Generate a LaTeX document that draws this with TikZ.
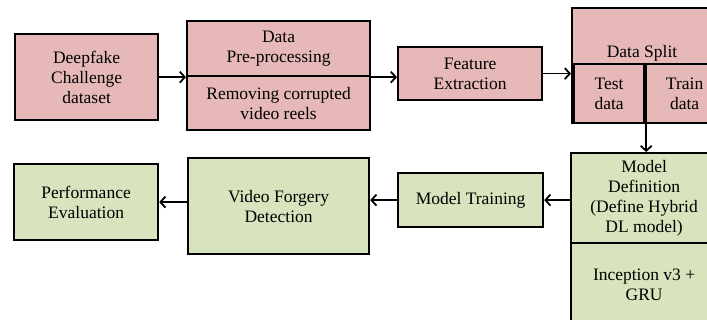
\documentclass[tikz,border=0pt]{standalone}
\usepackage{fontspec}
\setmainfont{Liberation Serif}
\usetikzlibrary{arrows.meta}
\definecolor{pinkfill}{HTML}{E6B9B8}
\definecolor{greenfill}{HTML}{D7E4BD}
\begin{document}
\begin{tikzpicture}[x=1pt,y=-1pt,
  box/.style={draw=black, line width=2.2pt, rectangle, anchor=north west, inner sep=0pt, align=center,
    font=\fontsize{17.5}{20}\selectfont},
  pbox/.style={box, fill=pinkfill},
  gbox/.style={box, fill=greenfill},
  lbl/.style={inner sep=0pt, align=center, font=\fontsize{17.5}{20}\selectfont},
  arr/.style={draw=black, line width=1.8pt, -{Straight Barb[length=5pt,width=11pt,line width=1.8pt]}}]
\useasboundingbox (0,0) rectangle (707,320);
\clip (0,0) rectangle (707,320);
% top row
\node[pbox, minimum width=143, minimum height=86] (deep) at (14,33) {Deepfake\\Challenge\\dataset};
\node[pbox, minimum width=183, minimum height=55] (preA) at (186,20) {Data\\Pre-processing};
\node[pbox, minimum width=183, minimum height=54] (preB) at (186,75) {Removing corrupted\\video reels};
\node[pbox, minimum width=144, minimum height=53] (feat) at (397,46) {Feature\\Extraction};
\node[pbox, minimum width=151, minimum height=115] (split) at (571,7) {};
\node[lbl] (splitlbl) at (642,53) {Data Split};
\node[pbox, minimum width=70, minimum height=59] (test) at (573,63) {Test\\data};
\node[pbox, minimum width=77, minimum height=59] (train) at (645,63) {Train\\data};
% bottom row
\node[gbox, minimum width=146, minimum height=90] (mdef) at (570,152) {Model\\Definition\\(Define Hybrid\\DL model)};
\node[gbox, minimum width=146, minimum height=83] (incep) at (570,242) {Inception v3 +\\GRU};
\node[gbox, minimum width=145, minimum height=54] (mtrain) at (397,172) {Model Training};
\node[gbox, minimum width=181, minimum height=96] (vfd) at (187,157) {Video Forgery\\Detection};
\node[gbox, minimum width=144, minimum height=76] (perf) at (13,163) {Performance\\Evaluation};
% connectors
\draw[arr] (deep.east |- preA.south) -- (preA.south west);
\draw[arr] (preA.south east) -- (preA.south east -| feat.west);
\draw[arr] (feat.east) -- (feat.east -| split.west);
\draw[arr] ([xshift=1pt]test.south east) -- ([xshift=1pt]test.south east |- mdef.north);
\draw[arr] (mdef.west |- mtrain.east) -- (mtrain.east);
\draw[arr] (mtrain.west) -- (mtrain.west -| vfd.east);
\draw[arr] (vfd.west |- perf.east) -- (perf.east);
\end{tikzpicture}
\end{document}
